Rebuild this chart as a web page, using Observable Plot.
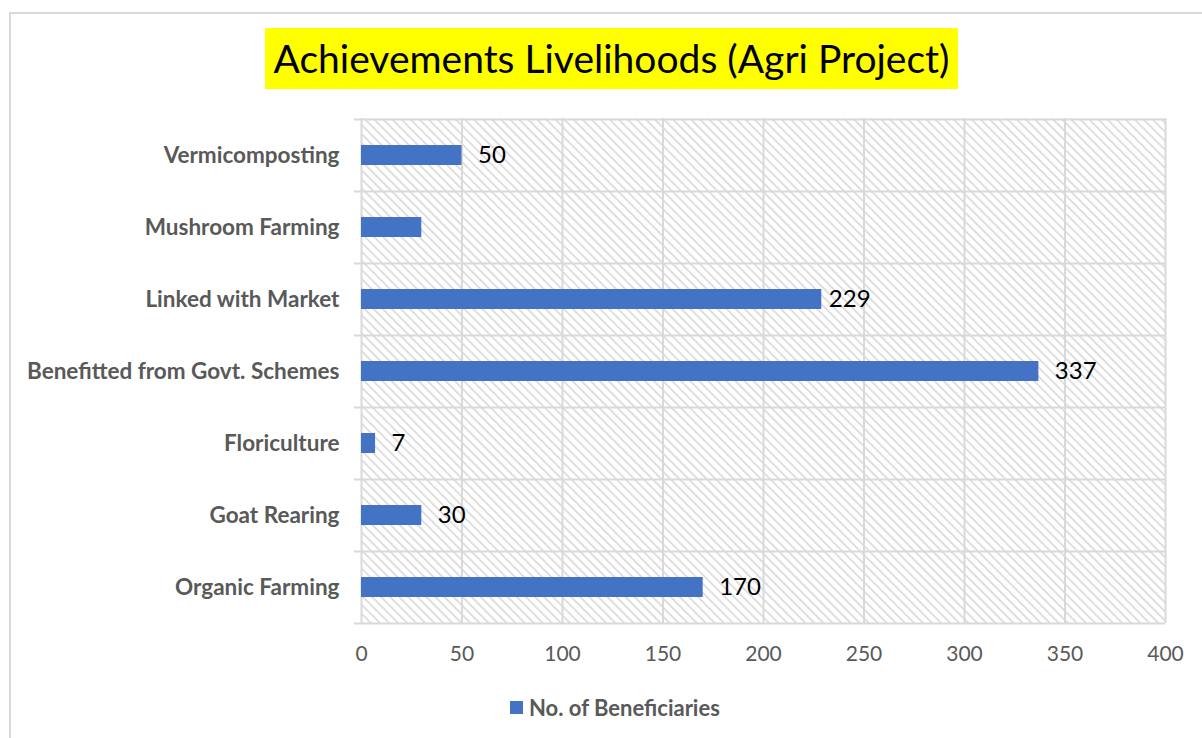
<!DOCTYPE html>
<html>
<head>
<meta charset="utf-8">
<script src="https://cdn.jsdelivr.net/npm/d3@7"></script>
<script src="https://cdn.jsdelivr.net/npm/@observablehq/plot@0.6"></script>
<style>
  html, body { margin: 0; padding: 0; background: #fff; }
  #wrap { position: relative; width: 1202px; height: 738px; overflow: hidden; font-family: Lato, "Open Sans", sans-serif; }
  #border { position: absolute; left: 9px; top: 12px; width: 1200px; height: 740px; border-left: 2px solid #d9d9d9; border-top: 2px solid #d9d9d9; box-sizing: border-box; }
  #title { position: absolute; left: 265px; top: 28px; width: 693px; height: 61px; background: #ffff00; color: #000; font-size: 39px; line-height: 61px; text-align: center; white-space: nowrap; }
  #chart { position: absolute; left: 0; top: 0; }
  #legend { position: absolute; left: 510px; top: 694px; height: 26px; display: flex; align-items: center; font-size: 22px; font-weight: bold; color: #595959; white-space: nowrap; }
  #legend .sw { width: 13px; height: 13px; background: #4472c4; margin-right: 6px; }
</style>
</head>
<body>
<div id="wrap">
  <div id="border"></div>
  <div id="chart"></div>
  <div id="title">Achievements Livelihoods (Agri Project)</div>
  <div id="legend"><span class="sw"></span><span>No. of Beneficiaries</span></div>
</div>
<script>
// Categories listed top to bottom as drawn
const categories = ["Vermicomposting", "Mushroom Farming", "Linked with Market", "Benefitted from Govt. Schemes", "Floriculture", "Goat Rearing", "Organic Farming"];
const beneficiaries = [50, 30, 229, 337, 7, 30, 170];
const valueLabels = ["50", "", "229", "337", "7", "30", "170"];
const xTicks = [0, 50, 100, 150, 200, 250, 300, 350, 400];
const seriesName = "No. of Beneficiaries";

const data = categories.map((c, i) => ({category: c, value: beneficiaries[i], label: valueLabels[i]}));
const labelled = data.filter(d => d.label !== "" && d.category !== "Linked with Market");
const labelledNear = data.filter(d => d.category === "Linked with Market");

const W = 1202, H = 738;
const mTop = 118, mBottom = 115, mLeft = 361, mRight = 37;
const band = (H - mTop - mBottom) / categories.length;

const plot = Plot.plot({
  width: W,
  height: H,
  marginTop: mTop,
  marginBottom: mBottom,
  marginLeft: mLeft,
  marginRight: mRight,
  style: {fontFamily: "Lato, 'Open Sans', sans-serif", color: "#595959", background: "transparent", overflow: "visible"},
  x: {domain: [0, 400]},
  y: {domain: categories, padding: 0},
  marks: [
    Plot.frame({fill: "url(#hatch)", stroke: "none"}),
    Plot.ruleX(xTicks, {stroke: "#d9d9d9", strokeWidth: 2}),
    Plot.ruleY(categories, {y: d => d, x1: -3.5, x2: 400, dy: -band / 2, stroke: "#d9d9d9", strokeWidth: 2}),
    Plot.ruleY([categories[categories.length - 1]], {y: d => d, x1: -3.5, x2: 400, dy: band / 2, stroke: "#d9d9d9", strokeWidth: 2}),
    Plot.barX(data, {y: "category", x: "value", fill: "#4472c4", insetTop: 26, insetBottom: 26}),
    Plot.text(labelled, {y: "category", x: "value", text: "label", textAnchor: "start", dx: 16, fontSize: 24, fill: "#000"}),
    Plot.text(labelledNear, {y: "category", x: "value", text: "label", textAnchor: "start", dx: 7, fontSize: 24, fill: "#000"}),
    Plot.axisX({ticks: xTicks, tickSize: 0, tickPadding: 23, fontSize: 21, tickFormat: d => String(d), label: null}),
    Plot.axisY({tickSize: 0, tickPadding: 22, fontSize: 22.5, fontWeight: "bold", label: null})
  ]
});

const defs = d3.select(plot).insert("defs", ":first-child");
const pat = defs.append("pattern")
  .attr("id", "hatch")
  .attr("patternUnits", "userSpaceOnUse")
  .attr("width", 6.4)
  .attr("height", 6.4)
  .attr("patternTransform", "rotate(-45)");
pat.append("rect").attr("width", 6.4).attr("height", 6.4).attr("fill", "#fff");
pat.append("line").attr("x1", 1).attr("y1", 0).attr("x2", 1).attr("y2", 6.4)
  .attr("stroke", "#dcdcdc").attr("stroke-width", 1.8);

document.getElementById("chart").appendChild(plot);
</script>
</body>
</html>
